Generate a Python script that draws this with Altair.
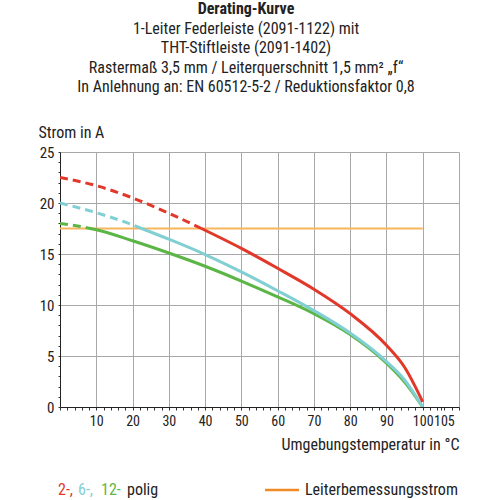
import altair as alt
import pandas as pd

# ---------------- data ----------------
title_lines = [
    "Derating-Kurve",
    "1-Leiter Federleiste (2091-1122) mit",
    "THT-Stiftleiste (2091-1402)",
    "Rastermaß 3,5 mm / Leiterquerschnitt 1,5 mm² „f“",
    "In Anlehnung an: EN 60512-5-2 / Reduktionsfaktor 0,8",
]
y_title = "Strom in A"
x_title = "Umgebungstemperatur in °C"
legend_parts = ["2-,", "6-,", "12-", "polig"]
legend_rated = "Leiterbemessungsstrom"

red_dash_x = [0, 10, 20, 30, 39]
red_dash_y = [22.5, 21.7, 20.5, 19.0, 17.5]
red_solid_x = [39, 50, 60, 70, 80, 90, 95, 100]
red_solid_y = [17.5, 15.55, 13.6, 11.55, 9.15, 6.05, 3.9, 0.5]

cyan_dash_x = [0, 10, 20, 22.5]
cyan_dash_y = [20.0, 19.05, 17.85, 17.5]
cyan_solid_x = [22.5, 30, 40, 50, 60, 70, 80, 90, 95, 100]
cyan_solid_y = [17.5, 16.45, 14.95, 13.25, 11.4, 9.45, 7.25, 4.45, 2.65, 0.0]

green_dash_x = [0, 4, 7.7]
green_dash_y = [18.0, 17.8, 17.55]
green_solid_x = [7.7, 10, 20, 30, 40, 50, 60, 70, 80, 90, 95, 100]
green_solid_y = [17.55, 17.38, 16.3, 15.1, 13.8, 12.35, 10.8, 9.15, 7.1, 4.3, 2.45, 0.0]

rated_x = [0, 100]
rated_y = [17.5, 17.5]

x_ticks = list(range(0, 111, 2)) + [105]
y_ticks = [i * 0.5 for i in range(0, 51)]

RED = "#e2382a"
CYAN = "#82cfd3"
GREEN = "#5cb646"
ORANGE_LINE = "#f7b55e"
ORANGE_LEG = "#f08a24"
FONT = "Roboto Condensed, Liberation Sans Narrow, Roboto"
FS = 16
LFS = 14

W, H = 399, 255

# ---------------- scales / axes ----------------
x_axis = alt.Axis(
    values=x_ticks,
    format="d",
    labelExpr="(datum.value % 10 == 0 && datum.value > 0 && datum.value < 110) || datum.value == 105 ? datum.label : ''",
    gridOpacity={"condition": {"test": "datum.value % 10 == 0", "value": 1}, "value": 0},
    labelOffset={"condition": {"test": "datum.value == 105", "value": 3}, "value": 0},
    gridColor="#a8a8a8",
    gridWidth=1,
    tickSize=3,
    tickColor="#333",
    domainColor="#222",
    labelOverlap=False,
    labelFlush=False,
    labelFontSize=LFS,
    labelColor="#222",
    labelFont=FONT,
    labelPadding=4,
    title=x_title,
    titleFont=FONT,
    titleFontSize=FS,
    titleFontWeight="normal",
    titleColor="#222",
    titleAlign="right",
    titleBaseline="middle",
    titleAnchor="end",
    titleX=W,
    titleY=37,
)
y_axis = alt.Axis(
    values=y_ticks,
    format="d",
    labelExpr="datum.value % 5 == 0 ? datum.label : ''",
    gridOpacity={"condition": {"test": "datum.value % 2.5 == 0", "value": 1}, "value": 0},
    gridColor="#a8a8a8",
    gridWidth=1,
    tickSize=2,
    tickColor="#333",
    domainColor="#222",
    labelOverlap=False,
    labelFlush=False,
    labelFontSize=15,
    labelColor="#222",
    labelFont=FONT,
    labelPadding=4,
    title=y_title,
    titleFont=FONT,
    titleFontSize=FS,
    titleFontWeight="normal",
    titleColor="#222",
    titleAngle=0,
    titleAlign="left",
    titleBaseline="middle",
    titleX=-22,
    titleY=-20,
)
x_scale = alt.Scale(domain=[0, 110], nice=False, zero=False)
y_scale = alt.Scale(domain=[0, 25], nice=False)


def line_layer(xs, ys, color, width, dash=None):
    df = pd.DataFrame({"x": xs, "y": ys})
    kw = dict(color=color, strokeWidth=width, interpolate="monotone", clip=True)
    if dash:
        kw["strokeDash"] = dash
    return alt.Chart(df).mark_line(**kw).encode(
        x=alt.X("x:Q", scale=x_scale, axis=x_axis),
        y=alt.Y("y:Q", scale=y_scale, axis=y_axis),
    )


def text_layer(txt, x, y, color="#222", size=FS, weight="normal", align="center"):
    df = pd.DataFrame({"t": [txt]})
    return alt.Chart(df).mark_text(
        font=FONT, fontSize=size, fontWeight=weight, color=color, align=align, baseline="middle"
    ).encode(x=alt.value(x), y=alt.value(y), text="t:N")


layers = [
    line_layer(rated_x, rated_y, ORANGE_LINE, 2),
    line_layer(green_dash_x, green_dash_y, GREEN, 3, [8, 5]),
    line_layer(green_solid_x, green_solid_y, GREEN, 3),
    line_layer(cyan_dash_x, cyan_dash_y, CYAN, 3, [8, 5]),
    line_layer(cyan_solid_x, cyan_solid_y, CYAN, 3),
    line_layer(red_dash_x, red_dash_y, RED, 3, [8, 5]),
    line_layer(red_solid_x, red_solid_y, RED, 3),
]

# title lines
title_y = [-143, -123, -104, -84, -65]
for i, (t, ty) in enumerate(zip(title_lines, title_y)):
    layers.append(text_layer(t, 186, ty, weight="bold" if i == 0 else "normal"))

# legend
leg_y = 338
leg_colors = [RED, CYAN, GREEN, "#222"]
leg_x = [-2, 18, 41, 67]
for t, c, lx in zip(legend_parts, leg_colors, leg_x):
    layers.append(text_layer(t, lx, leg_y, color=c, align="left"))

leg_line = alt.Chart(pd.DataFrame({"a": [0]})).mark_rule(color=ORANGE_LEG, strokeWidth=2.5).encode(
    x=alt.value(205), x2=alt.value(239), y=alt.value(leg_y)
)
layers.append(leg_line)
layers.append(text_layer(legend_rated, 245, leg_y, align="left"))

chart = alt.layer(*layers).properties(
    width=W,
    height=H,
    padding={"left": 60, "top": 152, "right": 41, "bottom": 93},
    autosize=alt.AutoSizeParams(type="none"),
).configure_view(stroke=None)

chart.save("out.html", embed_options={"renderer": "svg", "actions": False})
